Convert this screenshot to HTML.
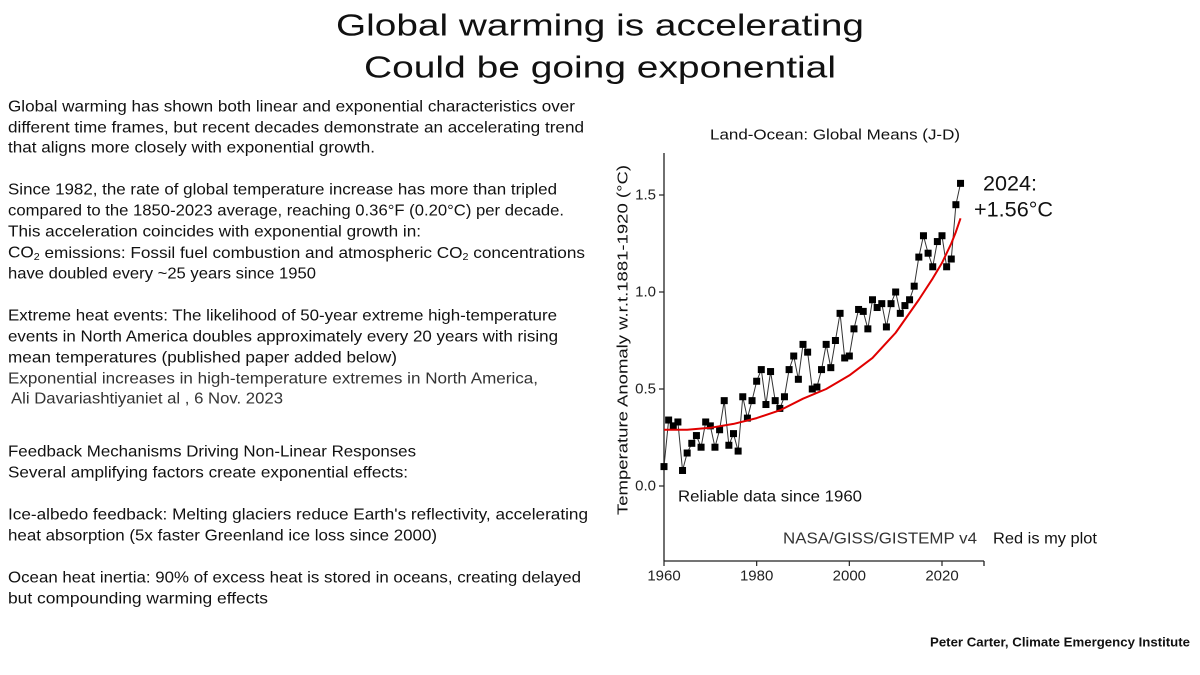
<!DOCTYPE html>
<html><head><meta charset="utf-8"><style>
html,body{margin:0;padding:0;background:#fff;}
svg{display:block;}
text{font-family:"Liberation Sans",sans-serif;}
</style></head><body>
<svg id="slide" width="1200" height="675" viewBox="0 0 1200 675">
<g font-size="31" fill="#111" text-anchor="middle" dominant-baseline="central">
<text x="600" y="25" textLength="528" lengthAdjust="spacingAndGlyphs">Global warming is accelerating</text>
<text x="600" y="67" textLength="472" lengthAdjust="spacingAndGlyphs">Could be going exponential</text>
</g>
<g id="body" font-size="16" fill="#111" dominant-baseline="central"></g>
<g>
<text x="835" y="135" font-size="15" text-anchor="middle" fill="#111" textLength="250" lengthAdjust="spacingAndGlyphs" dominant-baseline="central">Land-Ocean: Global Means (J-D)</text>
<text transform="translate(623,340) rotate(-90)" font-size="15" text-anchor="middle" dominant-baseline="central" fill="#111" textLength="350" lengthAdjust="spacingAndGlyphs">Temperature Anomaly w.r.t.1881-1920 (°C)</text>
<g id="axes"></g>
<g id="marks"></g>
<text x="678" y="497" font-size="16" fill="#111" dominant-baseline="central" textLength="184" lengthAdjust="spacingAndGlyphs">Reliable data since 1960</text>
<text x="783" y="539" font-size="16" fill="#333" dominant-baseline="central" textLength="194" lengthAdjust="spacingAndGlyphs">NASA/GISS/GISTEMP v4</text>
<text x="993" y="539" font-size="16" fill="#111" dominant-baseline="central" textLength="104" lengthAdjust="spacingAndGlyphs">Red is my plot</text>
<text x="983" y="184" font-size="21" fill="#111" dominant-baseline="central" textLength="54" lengthAdjust="spacingAndGlyphs">2024:</text>
<text x="974" y="210" font-size="21" fill="#111" dominant-baseline="central" textLength="79" lengthAdjust="spacingAndGlyphs">+1.56°C</text>
</g>
<text x="930" y="642" font-size="13" font-weight="bold" fill="#111" dominant-baseline="central" textLength="260" lengthAdjust="spacingAndGlyphs">Peter Carter, Climate Emergency Institute</text>
</svg>
<script>
const years = [1960,1961,1962,1963,1964,1965,1966,1967,1968,1969,1970,1971,1972,1973,1974,1975,1976,1977,1978,1979,1980,1981,1982,1983,1984,1985,1986,1987,1988,1989,1990,1991,1992,1993,1994,1995,1996,1997,1998,1999,2000,2001,2002,2003,2004,2005,2006,2007,2008,2009,2010,2011,2012,2013,2014,2015,2016,2017,2018,2019,2020,2021,2022,2023,2024];
const anomalies = [0.10,0.34,0.31,0.33,0.08,0.17,0.22,0.26,0.20,0.33,0.31,0.20,0.29,0.44,0.21,0.27,0.18,0.46,0.35,0.44,0.54,0.60,0.42,0.59,0.44,0.40,0.46,0.60,0.67,0.55,0.73,0.69,0.50,0.51,0.60,0.73,0.61,0.75,0.89,0.66,0.67,0.81,0.91,0.90,0.81,0.96,0.92,0.94,0.82,0.94,1.00,0.89,0.93,0.96,1.03,1.18,1.29,1.20,1.13,1.26,1.29,1.13,1.17,1.45,1.56];
const fitYears = [1960,1965,1970,1975,1980,1985,1990,1995,2000,2005,2010,2015,2018,2020,2022,2023,2024];
const fitValues = [0.29,0.29,0.30,0.32,0.35,0.39,0.45,0.50,0.57,0.66,0.79,0.96,1.07,1.15,1.25,1.31,1.38];
const yTicks = [0.0,0.5,1.0,1.5];
const yTickLabels = ["0.0","0.5","1.0","1.5"];
const xTicks = [1960,1980,2000,2020];
const xTickLabels = ["1960","1980","2000","2020"];

const bodyLines = [
 ["Global warming has shown both linear and exponential characteristics over",107,567],
 ["different time frames, but recent decades demonstrate an accelerating trend",128,576],
 ["that aligns more closely with exponential growth.",148,367],
 ["Since 1982, the rate of global temperature increase has more than tripled",190,549],
 ["compared to the 1850-2023 average, reaching 0.36°F (0.20°C) per decade.",211,556],
 ["This acceleration coincides with exponential growth in:",232,413],
 ["CO2LINE",253,577],
 ["have doubled every ~25 years since 1950",274,308],
 ["Extreme heat events: The likelihood of 50-year extreme high-temperature",316,549],
 ["events in North America doubles approximately every 20 years with rising",337,550],
 ["mean temperatures (published paper added below)",358,389],
 ["Exponential increases in high-temperature extremes in North America,",379,530],
 [" Ali Davariashtiyaniet al , 6 Nov. 2023",399,272],
 ["Feedback Mechanisms Driving Non-Linear Responses",452,408],
 ["Several amplifying factors create exponential effects:",473,400],
 ["Ice-albedo feedback: Melting glaciers reduce Earth's reflectivity, accelerating",515,580],
 ["heat absorption (5x faster Greenland ice loss since 2000)",536,429],
 ["Ocean heat inertia: 90% of excess heat is stored in oceans, creating delayed",578,573],
 ["but compounding warming effects",599,260]
];
const NS="http://www.w3.org/2000/svg";
function mk(tag,attrs,parent){const e=document.createElementNS(NS,tag);for(const k in attrs)e.setAttribute(k,attrs[k]);parent.appendChild(e);return e;}
const body=document.getElementById('body');
bodyLines.forEach(function(l,i){
  const t=mk('text',{x:l[0].startsWith(' ')?11:8,y:l[1],textLength:l[2],lengthAdjust:'spacingAndGlyphs'},body);
  
  
  if(i===11||i===12) t.setAttribute('fill','#333');
  if(l[0]==="CO2LINE"){
    t.innerHTML='CO<tspan font-size="10" dy="4">2</tspan><tspan dy="-4"> emissions: Fossil fuel combustion and atmospheric CO</tspan><tspan font-size="10" dy="4">2</tspan><tspan dy="-4"> concentrations</tspan>';
  } else t.textContent=l[0].trim();
});

const X0=664, X1=942, Y0=486, Y15=195;
function xs(y){return X0+(y-1960)*(X1-X0)/60;}
function ys(v){return Y0+v*(Y15-Y0)/1.5;}
const axes=document.getElementById('axes');
const ya=mk('line',{x1:664,y1:153,x2:664,y2:561,stroke:'#222','stroke-width':1.3},axes);


const xa=mk('line',{x1:664,y1:561,x2:984,y2:561,stroke:'#222','stroke-width':1.3},axes);


mk('line',{x1:984,y1:561,x2:984,y2:566,stroke:'#222','stroke-width':1.3},axes);
yTicks.forEach(function(v,i){
  mk('line',{x1:659,y1:ys(v),x2:664,y2:ys(v),stroke:'#222','stroke-width':1.2},axes);
  const t=mk('text',{x:656,y:ys(v),'font-size':15,'text-anchor':'end','dominant-baseline':'central',fill:'#222'},axes);
  
  
  t.textContent=yTickLabels[i];
});
xTicks.forEach(function(v,i){
  mk('line',{x1:xs(v),y1:561,x2:xs(v),y2:566,stroke:'#222','stroke-width':1.2},axes);
  const t=mk('text',{x:xs(v),y:576,'font-size':15,'text-anchor':'middle','dominant-baseline':'central',fill:'#222'},axes);
  
  
  t.textContent=xTickLabels[i];
});
const marks=document.getElementById('marks');
const ln=mk('polyline',{points:years.map(function(y,i){return xs(y)+','+ys(anomalies[i]);}).join(' '),fill:'none',stroke:'#333','stroke-width':1},marks);


years.forEach(function(y,i){
  const r=mk('rect',{x:xs(y)-3.5,y:ys(anomalies[i])-3.5,width:7,height:7,fill:'#000'},marks);
  
  
});
const fit=mk('polyline',{points:fitYears.map(function(y,i){return xs(y)+','+ys(fitValues[i]);}).join(' '),fill:'none',stroke:'#e00000','stroke-width':2,'stroke-linejoin':'round'},marks);


</script>
</body></html>
